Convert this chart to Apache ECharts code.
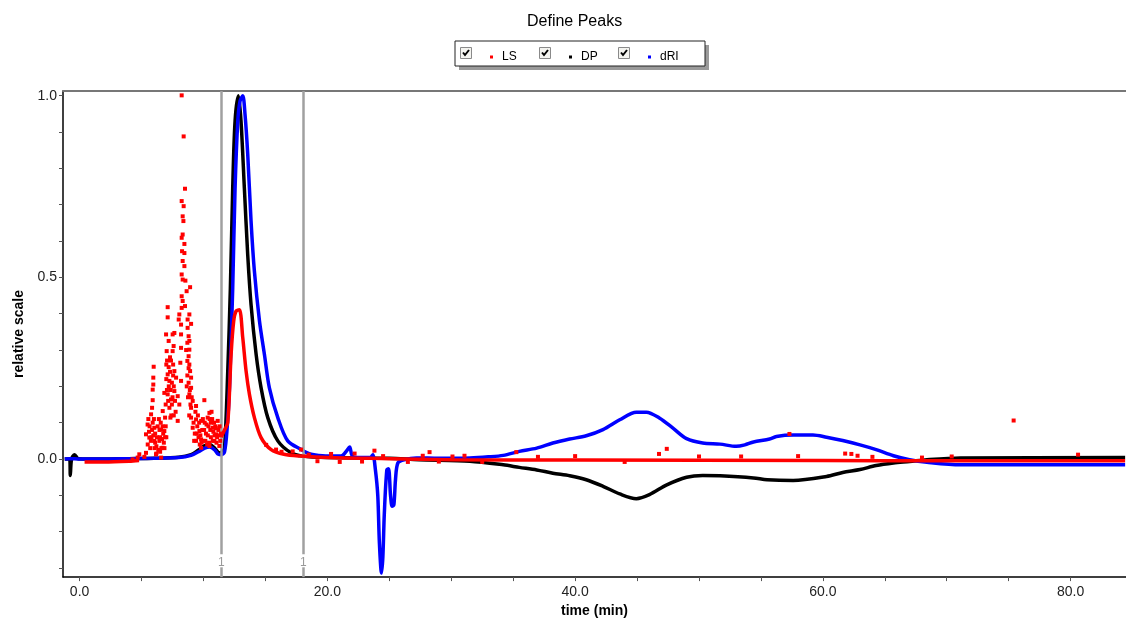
<!DOCTYPE html>
<html>
<head>
<meta charset="utf-8">
<script src="https://cdn.jsdelivr.net/npm/echarts@6/dist/echarts.min.js"></script>
<style>html,body{margin:0;padding:0;background:#fff}#c{width:1126px;height:623px}</style>
</head>
<body>
<div id="c"></div>
<script>
// ---- data ----
const seriesNames = ['LS', 'DP', 'dRI'];
const xTickLabels = [0, 20, 40, 60, 80];
const xMinorTicks = [0, 5, 10, 15, 20, 25, 30, 35, 40, 45, 50, 55, 60, 65, 70, 75, 80];
const yTickLabels = [0, 0.5, 1.0];
const yMinorTicks = [-0.3, -0.2, -0.1, 0, 0.1, 0.2, 0.3, 0.4, 0.5, 0.6, 0.7, 0.8, 0.9, 1.0];
const peakLimits = [11.45, 18.07];
const peakLimitLabels = ['1', '1'];

const driTime = [-1.2,-0.8,0,2,4,6,8,9,9.6,10.1,10.5,10.9,11.2,11.45,11.7,11.9,12.1,12.36,12.55,12.77,12.95,13.17,13.35,13.57,13.84,14.11,14.52,14.92,15.32,16.0,16.8,17.9,18.6,19.6,21.1,21.5,21.8,22.05,23.0,23.5,23.67,23.88,24.07,24.2,24.37,24.48,24.6,24.8,24.94,25.1,25.23,25.37,25.5,25.69,26.2,27.2,29,31.5,33,34.2,35.5,36.9,38.2,39.56,40.9,42.25,43.6,44.94,45.75,46.8,47.9,49.0,50.3,51.7,53.0,53.7,54.4,55.7,56.25,57.6,59.2,60.3,61.6,63.0,64.3,65.7,67.0,68.4,71.1,76.4,84.4];
const driValue = [0,0.001,0,0,0.001,0.002,0.004,0.01,0.02,0.03,0.033,0.025,0.013,0.012,0.02,0.08,0.196,0.47,0.745,0.93,0.985,1.0,0.95,0.84,0.655,0.517,0.38,0.288,0.196,0.114,0.05,0.026,0.014,0.009,0.008,0.02,0.033,0.007,0.004,0.005,0.012,-0.03,-0.10,-0.23,-0.314,-0.27,-0.149,-0.03,-0.027,-0.10,-0.13,-0.126,-0.057,-0.011,-0.002,0.003,0.002,0.003,0.006,0.01,0.021,0.03,0.044,0.055,0.064,0.081,0.108,0.129,0.129,0.113,0.085,0.056,0.044,0.041,0.035,0.039,0.047,0.055,0.062,0.066,0.066,0.06,0.051,0.039,0.026,0.009,-0.002,-0.009,-0.016,-0.016,-0.016];

const dpTime = [-1.2,-0.8,-0.75,-0.65,-0.4,-0.1,2,4,6,8,9,9.6,10.1,10.5,10.9,11.28,11.5,11.7,11.96,12.17,12.36,12.55,12.82,13.03,13.3,13.57,13.84,14.25,14.65,15.19,16.0,17.07,18.0,20,25,27.4,31.5,34.2,35.5,36.9,38.2,39.56,40.9,42.25,43.6,44.94,46.0,47.4,49.0,50.3,51.7,54.4,55.5,57.6,60.3,61.6,63.0,64.3,65.7,67,68.4,71.1,84.4];
const dpValue = [0,0,-0.045,0,0.012,0.001,0,0.001,0.002,0.005,0.012,0.025,0.037,0.04,0.03,0.017,0.02,0.031,0.242,0.47,0.746,0.93,1.0,0.93,0.746,0.563,0.425,0.288,0.196,0.114,0.05,0.017,0.008,0.004,0.002,-0.002,-0.006,-0.016,-0.023,-0.03,-0.039,-0.046,-0.057,-0.075,-0.096,-0.109,-0.098,-0.071,-0.05,-0.045,-0.046,-0.052,-0.057,-0.059,-0.048,-0.037,-0.029,-0.018,-0.011,-0.007,-0.002,0.003,0.004];

const lsBaseTime = [0.4,2,4,4.8];
const lsBaseValue = [-0.008,-0.008,-0.006,-0.004];
const lsPeakTime = [11.42,11.7,11.96,12.23,12.44,12.63,12.9,13.17,13.44,13.71,14.11,14.65,15.46,16.5,17.9,20,25,30,40,60,70,84.4];
const lsPeakValue = [0.06,0.08,0.10,0.288,0.38,0.407,0.411,0.334,0.242,0.178,0.114,0.059,0.026,0.013,0.008,0.004,0.001,-0.002,-0.003,-0.004,-0.005,-0.005];

const lsNoiseTime = [4.28,4.69,4.82,5.23,5.36,5.36,5.49,5.63,5.77,5.85,5.9,5.9,5.95,5.95,5.98,6.03,6.03,6.17,6.44,6.58,6.58,6.7,6.71,6.84,6.84,6.9,6.98,7.03,7.06,7.11,7.11,7.11,7.11,7.19,7.19,7.25,7.25,7.33,7.38,7.38,7.51,7.51,7.59,7.65,7.65,7.65,7.79,7.92,7.92,8.0,8.05,8.05,8.13,8.19,8.19,8.19,8.19,8.24,8.24,8.24,8.24,8.24,8.24,8.27,8.32,8.32,8.32,8.32,8.32,8.38,8.4,8.4,8.46,8.46,8.46,8.51,8.51,8.54,8.64,8.72,8.72,8.8,8.8,8.86,8.86,8.86,8.86,8.86,8.92,8.92,9.0,9.0,9.0,9.0,9.0,9.13,9.13,9.4,9.4,9.4,9.67,9.81,9.81,9.81,10.07,10.34,10.48,10.48,10.74,10.88,11.02,11.15,11.28,
  5.5,5.6,5.7,5.8,5.9,6.1,6.2,6.3,6.4,6.5,6.6,6.75,6.8,6.95,7.0,6.5,6.2,
  9.3,9.5,9.6,9.7,9.9,10.0,10.1,10.2,10.3,10.4,10.6,10.7,10.8,10.95,11.1,11.2,11.35,11.4,9.55,9.2,10.6,
  7.0,7.05,7.15,7.2,7.3,7.35,7.45,7.5,7.55,7.6,7.7,7.75,7.45,7.3,7.55,7.0,6.95,7.4,7.6,
  8.65,8.7,8.75,8.8,8.9,8.95,8.7,8.8,8.85,9.05,8.6,8.7,
  5.55,5.65,5.75,5.85,6.0,6.1,6.25,6.35,6.45,6.55,6.65,6.7,6.85,6.9,6.05,5.95,
  9.25,9.35,9.45,9.65,9.75,9.85,9.95,10.05,10.15,10.25,10.35,10.45,10.55,10.65,10.75,10.85,10.9,11.0,11.05,11.25,11.3,10.5,
  15.06,15.86,17.2,17.88,16.3,18.5,19.2,20.3,21.0,22.2,22.8,23.8,24.5,26.5,27.7,28.25,29,30.1,31.07,32.5,35.25,37,40,44,46.77,47.4,50,53.4,57.3,58,61.8,62.3,62.8,64,68,70.4,75.4,80.6];
const lsNoiseValue = [-0.001,0.004,0.013,0.006,0.017,0.068,0.095,0.059,0.123,0.141,0.162,0.191,0.205,0.224,0.254,0.086,0.05,0.013,0.05,0.081,0.004,0.031,0.132,0.077,0.182,0.114,0.343,0.297,0.271,0.418,0.39,0.233,0.178,0.325,0.253,0.215,0.141,0.114,0.271,0.164,0.343,0.297,0.311,0.347,0.242,0.187,0.224,0.173,0.105,0.384,0.398,0.15,0.265,0.37,0.343,0.306,0.215,1.001,0.71,0.609,0.508,0.448,0.416,0.572,0.668,0.618,0.545,0.494,0.435,0.655,0.888,0.696,0.592,0.567,0.531,0.744,0.421,0.491,0.462,0.384,0.361,0.338,0.283,0.398,0.325,0.301,0.26,0.178,0.473,0.242,0.372,0.224,0.196,0.141,0.114,0.16,0.086,0.146,0.109,0.05,0.077,0.105,0.054,0.031,0.162,0.114,0.127,0.036,0.086,0.05,0.068,0.105,0.036,
  0.04,0.075,0.03,0.06,0.1,0.07,0.035,0.09,0.11,0.06,0.03,0.07,0.045,0.09,0.06,0.02,0.015,
  0.07,0.09,0.06,0.04,0.08,0.05,0.1,0.07,0.04,0.09,0.06,0.11,0.075,0.09,0.06,0.08,0.05,0.07,0.12,0.1,0.1,
  0.22,0.19,0.16,0.2,0.24,0.19,0.21,0.17,0.23,0.2,0.16,0.13,0.15,0.28,0.26,0.26,0.15,0.12,0.12,
  0.2,0.23,0.17,0.21,0.19,0.15,0.27,0.25,0.12,0.17,0.3,0.32,
  0.11,0.09,0.05,0.08,0.11,0.045,0.06,0.025,0.08,0.1,0.055,0.09,0.03,0.06,0.03,0.065,
  0.05,0.13,0.07,0.1,0.065,0.045,0.11,0.08,0.05,0.095,0.065,0.045,0.08,0.13,0.05,0.1,0.065,0.085,0.045,0.065,0.09,0.11,
  0.039,0.026,0.021,0.026,0.02,0.012,-0.006,0.014,-0.008,0.015,-0.007,0.023,0.008,-0.008,0.009,0.019,-0.007,0.007,0.009,-0.008,0.019,0.006,0.008,-0.008,0.014,0.028,0.007,0.007,0.069,0.008,0.015,0.014,0.009,0.006,0.004,0.007,0.106,0.012];

const zip = (a, b) => a.map((t, i) => [t, b[i]]);
const FONT = 'Liberation Sans, Arial, sans-serif';
const colors = {LS: '#ff0000', DP: '#000000', dRI: '#0000ff'};
const LW = 3.5;

const chart = echarts.init(document.getElementById('c'), null, {renderer: 'canvas'});

function limitLines() {
  const data = [];
  peakLimits.forEach((x, i) => {
    data.push([{coord: [x, 1.013], label: {show: true, formatter: peakLimitLabels[i]}}, {coord: [x, -0.262]}]);
    data.push([{coord: [x, -0.298], label: {show: false}}, {coord: [x, -0.325]}]);
  });
  return data;
}

const legendLefts = [485, 564, 643];
const checkLefts = [460, 539, 618];

const graphics = [
  {type: 'rect', shape: {x: 459, y: 45, width: 250, height: 25}, style: {fill: '#9a9a9a'}, z: 10},
  {type: 'rect', shape: {x: 455, y: 41, width: 250, height: 25}, style: {fill: '#fff', stroke: '#222', lineWidth: 1}, z: 11}
];
checkLefts.forEach(x => {
  graphics.push({type: 'rect', shape: {x: x + 0.5, y: 47.5, width: 11, height: 11}, style: {fill: '#f4f4f0', stroke: '#8a8a8a', lineWidth: 1}, z: 12});
  graphics.push({type: 'polyline', shape: {points: [[x + 3, 52.5], [x + 5, 55], [x + 9, 50]]}, style: {stroke: '#000', lineWidth: 2, fill: null}, z: 13});
});

const lineBase = {type: 'line', showSymbol: false, smooth: 0.3};

chart.setOption({
  animation: false,
  backgroundColor: '#fff',
  title: {
    text: 'Define Peaks', left: 522, top: 9,
    textStyle: {fontFamily: FONT, fontSize: 16, fontWeight: 'normal', color: '#000'}
  },
  legend: seriesNames.map((n, i) => ({
    data: [n], left: legendLefts[i], top: 46, icon: 'rect', itemWidth: 3, itemHeight: 3, z: 20,
    selectedMode: false,
    textStyle: {fontFamily: FONT, fontSize: 12, color: '#000', padding: [0, 0, 0, 4]}
  })),
  graphic: graphics,
  grid: {left: 63, right: 0, top: 91, bottom: 45, containLabel: false},
  xAxis: [{
    type: 'value', min: -1.34, max: 84.47,
    name: 'time (min)', nameLocation: 'middle', nameGap: 26,
    nameTextStyle: {fontFamily: FONT, fontSize: 14, fontWeight: 'bold', color: '#000'},
    axisLine: {show: true, onZero: false, lineStyle: {color: '#000', width: 1.5}},
    axisTick: {show: true, customValues: xMinorTicks, length: 4, lineStyle: {color: '#555'}},
    axisLabel: {customValues: xTickLabels, formatter: v => v.toFixed(1), fontFamily: FONT, fontSize: 14, color: '#222', margin: 8},
    splitLine: {show: false}
  }, {
    type: 'value', position: 'top', min: -1.34, max: 84.47,
    axisLine: {show: true, onZero: false, lineStyle: {color: '#777', width: 2}},
    axisTick: {show: false}, axisLabel: {show: false}, splitLine: {show: false}
  }],
  yAxis: {
    type: 'value', min: -0.325, max: 1.013,
    name: 'relative scale', nameLocation: 'middle', nameGap: 36,
    nameTextStyle: {fontFamily: FONT, fontSize: 14, fontWeight: 'bold', color: '#000'},
    axisLine: {show: true, onZero: false, lineStyle: {color: '#000', width: 1.5}},
    axisTick: {show: true, customValues: yMinorTicks, length: 4, lineStyle: {color: '#555'}},
    axisLabel: {customValues: yTickLabels, formatter: v => v.toFixed(1), fontFamily: FONT, fontSize: 14, color: '#222', margin: 6},
    splitLine: {show: false}
  },
  series: [
    Object.assign({}, lineBase, {
      name: 'DP', data: zip(dpTime, dpValue), z: 3,
      color: colors.DP, lineStyle: {width: LW, color: colors.DP},
      markLine: {
        silent: true, symbol: 'none', animation: false,
        lineStyle: {color: '#a0a0a0', width: 2.5, type: 'solid'},
        label: {show: true, position: 'end', distance: 2, color: '#999', fontFamily: FONT, fontSize: 12},
        data: limitLines()
      }
    }),
    Object.assign({}, lineBase, {
      name: 'dRI', data: zip(driTime, driValue), z: 4,
      color: colors.dRI, lineStyle: {width: LW, color: colors.dRI}
    }),
    Object.assign({}, lineBase, {
      name: 'LS', data: zip(lsBaseTime, lsBaseValue), z: 5,
      color: colors.LS, lineStyle: {width: LW, color: colors.LS}
    }),
    Object.assign({}, lineBase, {
      name: 'LS', data: zip(lsPeakTime, lsPeakValue), z: 5,
      color: colors.LS, lineStyle: {width: LW, color: colors.LS}
    }),
    {
      name: 'LS', type: 'scatter', data: zip(lsNoiseTime, lsNoiseValue), z: 6,
      symbol: 'rect', symbolSize: 4, color: colors.LS, itemStyle: {color: colors.LS, opacity: 1}
    }
  ]
});
</script>
</body>
</html>
